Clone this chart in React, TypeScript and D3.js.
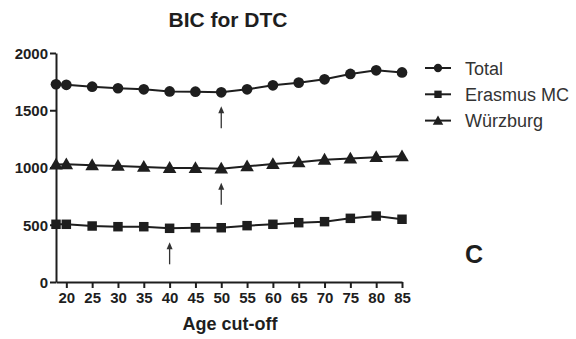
import React, { useEffect, useRef } from "react";
import * as d3 from "d3";

const ages = [18, 20, 25, 30, 35, 40, 45, 50, 55, 60, 65, 70, 75, 80, 85];
const totalBic = [1727, 1722, 1706, 1692, 1683, 1664, 1662, 1657, 1683, 1718, 1741, 1770, 1817, 1849, 1830];
const erasmusBic = [504, 504, 489, 483, 483, 469, 474, 474, 492, 504, 518, 527, 556, 576, 548];
const wurzburgBic = [1026, 1028, 1020, 1014, 1005, 996, 995, 990, 1010, 1030, 1046, 1068, 1078, 1090, 1098];
const xTicks = [20, 25, 30, 35, 40, 45, 50, 55, 60, 65, 70, 75, 80, 85];
const yTicks = [0, 500, 1000, 1500, 2000];
// arrows mark the minimum for each series: [age, value]
const arrows = [
  [50, 1657],
  [50, 990],
  [40, 469],
];

const seriesList = [
  { name: "Total", values: totalBic, shape: "circle" },
  { name: "Erasmus MC", values: erasmusBic, shape: "square" },
  { name: "Würzburg", values: wurzburgBic, shape: "triangle" },
];

const ink = "#1e1e1e";
const font = "'Liberation Sans', Arial, sans-serif";

const App = () => {
  const ref = useRef<SVGSVGElement>(null);

  useEffect(() => {
    drawChart();
  }, []);

  const drawChart = () => {
    const width = 576;
    const height = 339;
    const margin = { top: 53, left: 56, right: 174, bottom: 57 };

    const svg = d3.select(ref.current);
    svg.selectAll("*").remove();

    const x = d3.scaleLinear().domain([18, 85]).range([margin.left, width - margin.right]);
    const y = d3.scaleLinear().domain([0, 2000]).range([height - margin.bottom, margin.top]);

    const symbols: Record<string, d3.SymbolType> = {
      circle: d3.symbolCircle,
      square: d3.symbolSquare,
      triangle: d3.symbolTriangle,
    };
    const sizes: Record<string, number> = { circle: 90, square: 90, triangle: 80 };

    // Title
    svg
      .append("text")
      .attr("x", 228)
      .attr("y", 27)
      .attr("text-anchor", "middle")
      .style("font", `bold 21px ${font}`)
      .attr("fill", ink)
      .text("BIC for DTC");

    // Y axis
    const yAxis = svg
      .append("g")
      .attr("transform", `translate(${margin.left},0)`)
      .call(
        d3.axisLeft(y).tickValues(yTicks).tickFormat(d3.format("d")).tickSize(6).tickSizeOuter(0).tickPadding(2)
      );
    yAxis.select(".domain").attr("stroke", ink).attr("stroke-width", 2);
    yAxis.selectAll(".tick line").attr("stroke", ink).attr("stroke-width", 2);
    yAxis
      .selectAll("text")
      .attr("fill", ink)
      .attr("dy", "0.36em")
      .style("font", `bold 15px ${font}`);

    // X axis
    const xAxis = svg
      .append("g")
      .attr("transform", `translate(0,${height - margin.bottom})`)
      .call(d3.axisBottom(x).tickValues(xTicks).tickSize(6).tickSizeOuter(0).tickPadding(4));
    xAxis.select(".domain").attr("stroke", ink).attr("stroke-width", 2);
    xAxis.selectAll(".tick line").attr("stroke", ink).attr("stroke-width", 2);
    xAxis
      .selectAll("text")
      .attr("fill", ink)
      .style("font", `bold 15px ${font}`);

    svg
      .append("text")
      .attr("x", 230)
      .attr("y", 330)
      .attr("text-anchor", "middle")
      .style("font", `bold 18px ${font}`)
      .attr("fill", ink)
      .text("Age cut-off");

    // Lines and markers
    const line = d3
      .line<number>()
      .x((d, i) => x(ages[i]))
      .y((d) => y(d));

    seriesList.forEach((s) => {
      svg
        .append("path")
        .datum(s.values)
        .attr("d", line)
        .attr("fill", "none")
        .attr("stroke", ink)
        .attr("stroke-width", 2);

      svg
        .selectAll(null)
        .data(s.values)
        .enter()
        .append("path")
        .attr("transform", (d, i) => `translate(${x(ages[i])},${y(d) + (s.shape === "triangle" ? 1 : 0)})`)
        .attr("d", d3.symbol().type(symbols[s.shape]).size(sizes[s.shape]))
        .attr("fill", ink);
    });

    // Arrows under minima
    arrows.forEach(([age, val]) => {
      const ax = x(age);
      const top = y(val) + 15;
      const bottom = top + 21;
      svg
        .append("line")
        .attr("x1", ax)
        .attr("x2", ax)
        .attr("y1", top + 3)
        .attr("y2", bottom)
        .attr("stroke", "#333")
        .attr("stroke-width", 1.3);
      svg
        .append("path")
        .attr("d", `M${ax - 3},${top + 6}L${ax},${top - 1}L${ax + 3},${top + 6}Z`)
        .attr("fill", "#333");
    });

    // Legend
    const legend = svg.append("g").attr("transform", "translate(425,68)");
    seriesList.forEach((s, i) => {
      const g = legend.append("g").attr("transform", `translate(0,${i * 26.3})`);
      g.append("line").attr("x1", 0).attr("x2", 26).attr("stroke", ink).attr("stroke-width", 2);
      g.append("path")
        .attr("transform", `translate(13,${s.shape === "triangle" ? 1 : 0})`)
        .attr("d", d3.symbol().type(symbols[s.shape]).size(sizes[s.shape] * 0.6))
        .attr("fill", ink);
      g.append("text")
        .attr("x", 40)
        .attr("y", 6.5)
        .style("font", `18px ${font}`)
        .attr("fill", "#333")
        .text(s.name);
    });

    // Panel letter
    svg
      .append("text")
      .attr("x", 474)
      .attr("y", 263)
      .attr("text-anchor", "middle")
      .style("font", `bold 25px ${font}`)
      .attr("fill", ink)
      .text("C");
  };

  return (
    <svg
      ref={ref}
      width={576}
      height={339}
      style={{ position: "absolute", left: 0, top: 0, background: "#fff" }}
    />
  );
};

export default App;
